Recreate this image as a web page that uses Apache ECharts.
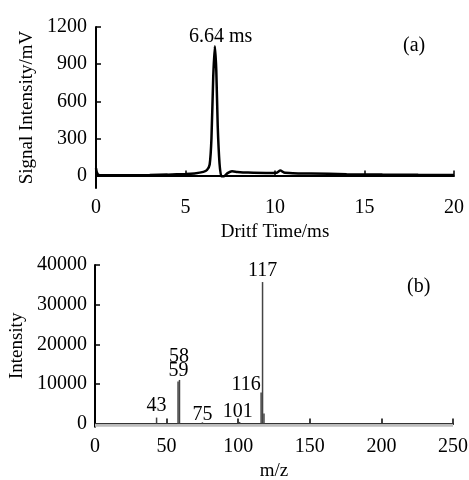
<!DOCTYPE html>
<html><head><meta charset="utf-8">
<script src="https://cdn.jsdelivr.net/npm/echarts@6/dist/echarts.min.js"></script>
<style>html,body{margin:0;padding:0;background:#fff}#c{width:469px;height:480px}</style>
</head><body><div id="c"></div>
<script>
// (a) drift spectrum
const driftTime = [0, 0.05, 0.15, 0.5, 1, 2, 3, 4, 5, 5.5, 6.0, 6.2, 6.35, 6.45, 6.55, 6.64, 6.72, 6.8, 6.9, 7.0, 7.15, 7.35, 7.6, 7.9, 8.5, 9.5, 10.1, 10.3, 10.5, 11, 12, 14, 16, 18, 20];
const signal = [60, 25, 5, 2, 2, 3, 5, 8, 13, 18, 30, 45, 90, 300, 800, 1045, 850, 400, 100, -5, -5, 20, 35, 30, 25, 22, 24, 42, 25, 20, 17, 12, 8, 6, 5];
const yTicksA = [0, 300, 600, 900, 1200];
// (b) mass spectrum
const mz = [43, 58, 59, 75, 101, 116, 117, 118];
const intensity = [1500, 10600, 11000, 300, 400, 7800, 35700, 2500];
const peakLabels = ['43', '58', '59', '75', '101', '116', '117', ''];
const baselineMz = [0, 250];
const baselineInt = [0, 0];
const yTicksB = [0, 10000, 20000, 30000, 40000];

const labelOffsets = {'43': [0, 0], '58': [1, -13], '59': [-1, 3], '75': [0, 4], '101': [-2, 2], '116': [-15, 4], '117': [0, 1], '': [0, 0]};
const FONT = 'Liberation Serif';
const num = {fontFamily: FONT, fontSize: 20, color: '#000'};
const nm = {fontFamily: FONT, fontSize: 19, color: '#000'};
const plain = v => String(v);

const chart = echarts.init(document.getElementById('c'), null, {renderer: 'canvas'});
const axisLine = {show: true, lineStyle: {color: '#000', width: 2}};
const tick = {show: true, inside: true, length: 5, lineStyle: {color: '#000', width: 1.5}};

chart.setOption({
  animation: false,
  backgroundColor: '#fff',
  grid: [
    {left: 96, right: 15, top: 27, height: 161, containLabel: false, outerBoundsMode: 'none'},
    {left: 95, right: 16, top: 265, height: 161.7, containLabel: false, outerBoundsMode: 'none'}
  ],
  xAxis: [
    {gridIndex: 0, type: 'value', min: 0, max: 20, interval: 5,
     axisLine: axisLine, axisTick: tick, splitLine: {show: false},
     axisLabel: Object.assign({margin: 10, formatter: plain}, num),
     name: 'Dritf Time/ms', nameLocation: 'middle', nameGap: 35, nameTextStyle: nm},
    {gridIndex: 1, type: 'value', min: 0, max: 250, interval: 50,
     axisLine: axisLine, axisTick: tick, splitLine: {show: false},
     axisLabel: Object.assign({margin: 10, formatter: plain}, num),
     name: 'm/z', nameLocation: 'middle', nameGap: 35, nameTextStyle: nm},
  ],
  yAxis: [
    {gridIndex: 0, type: 'value', min: -100, max: 1200,
     axisLine: axisLine,
     axisTick: Object.assign({customValues: yTicksA}, tick),
     axisLabel: Object.assign({margin: 9, customValues: yTicksA, formatter: plain}, num),
     splitLine: {show: false},
     name: 'Signal Intensity/mV', nameLocation: 'middle', nameGap: 49, nameTextStyle: nm},
    {gridIndex: 1, type: 'value', min: -800, max: 40000,
     axisLine: axisLine,
     axisTick: Object.assign({customValues: yTicksB}, tick),
     axisLabel: Object.assign({margin: 8, customValues: yTicksB, formatter: plain}, num),
     splitLine: {show: false},
     name: 'Intensity', nameLocation: 'middle', nameGap: 67, nameTextStyle: nm}
  ],
  series: [
    {type: 'line', xAxisIndex: 0, yAxisIndex: 0, smooth: 0.2, symbol: 'none',
     lineStyle: {color: '#000', width: 2.5},
     data: driftTime.map((t, i) => [t, signal[i]])},
    {type: 'line', xAxisIndex: 1, yAxisIndex: 1, symbol: 'none', z: 1,
     lineStyle: {color: '#333', width: 1},
     areaStyle: {color: '#bdbdbd', origin: 'start', opacity: 1},
     data: baselineMz.map((m, i) => [m, baselineInt[i]])},
    {type: 'bar', xAxisIndex: 1, yAxisIndex: 1, barWidth: 1.5, barGap: '-100%', z: 3,
     itemStyle: {color: '#444'},
     data: mz.map((m, i) => ({
       value: [m, intensity[i]],
       label: {show: peakLabels[i] !== '', position: 'top', distance: 2,
               offset: labelOffsets[peakLabels[i]],
               formatter: peakLabels[i], fontFamily: FONT, fontSize: 20, color: '#000'}
     }))}
  ],
  graphic: [
    {type: 'text', left: 189, top: 27, style: {text: '6.64 ms', font: '20px "Liberation Serif"', fill: '#000'}},
    {type: 'text', left: 403, top: 36, style: {text: '(a)', font: '20px "Liberation Serif"', fill: '#000'}},
    {type: 'text', left: 407, top: 277, style: {text: '(b)', font: '20px "Liberation Serif"', fill: '#000'}}
  ]
});
</script></body></html>
